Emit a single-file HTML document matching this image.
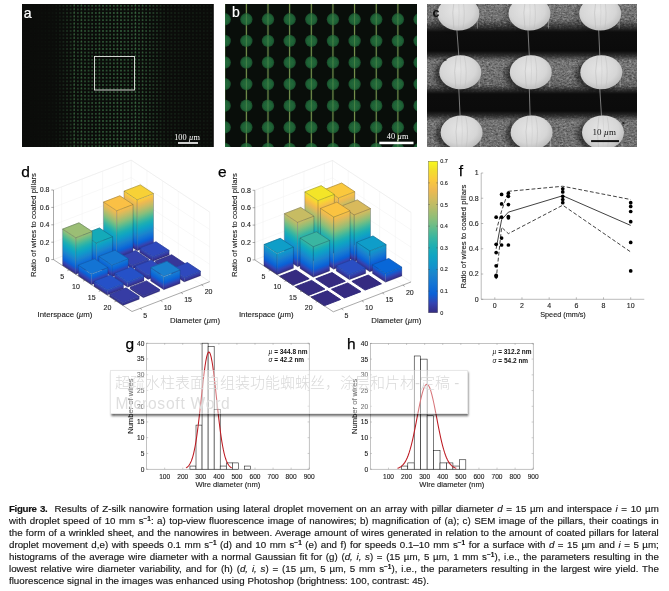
<!DOCTYPE html>
<html lang="en"><head><meta charset="utf-8"><title>Figure 3</title>
<style>
html,body{margin:0;padding:0;background:#fff;}
body{width:669px;height:591px;position:relative;overflow:hidden;font-family:"Liberation Sans","Noto Sans CJK SC",sans-serif;}
svg text{font-family:"Liberation Sans",sans-serif;}
svg text.sf{font-family:"Liberation Serif",serif;}
.tk{font-size:7px;fill:#222;stroke:#222;stroke-width:0.12px;}
.tk2{font-size:6.6px;fill:#1a1a1a;stroke:#1a1a1a;stroke-width:0.12px;}
.cbt{font-size:5.5px;fill:#222;stroke:#222;stroke-width:0.12px;}
.al{font-size:7.8px;fill:#1a1a1a;stroke:#1a1a1a;stroke-width:0.12px;}
.al2{font-size:7.6px;fill:#1a1a1a;stroke:#1a1a1a;stroke-width:0.12px;}
.pl{font-size:15.5px;fill:#000;stroke:#000;stroke-width:0.25px;}
.ann{font-size:6.5px;font-weight:bold;fill:#111;}
.cl{position:absolute;left:9px;white-space:nowrap;font-size:9.6px;line-height:12px;height:12px;color:#111;transform-origin:0 50%;-webkit-text-stroke:0.15px #222;}
.cl b{letter-spacing:-0.35px;}
.cl .sp{font-size:6.4px;font-weight:bold;position:relative;top:-3px;line-height:0;}
.tip{position:absolute;left:110.2px;top:370.1px;width:357.8px;height:43.5px;background:rgba(255,255,255,0.4);box-shadow:1.2px 2px 2.2px rgba(0,0,0,0.6);border:0.5px solid rgba(190,190,190,0.35);box-sizing:border-box;}
.tip div{position:absolute;left:3.8px;white-space:nowrap;color:#dadada;line-height:18px;height:18px;font-family:"Liberation Sans","Noto Sans CJK SC",sans-serif;}
.tip .t1{top:2.9px;font-size:15px;font-weight:300;}
.tip .t2{color:#dedede;top:23.6px;font-size:15.6px;letter-spacing:0.75px;left:4.3px;}
</style></head><body>
<svg width="191.8" height="143.3" viewBox="0 0 191.8 143.3" style="position:absolute;left:22px;top:4px">
<defs>
<pattern id="dots" width="3.6" height="3.6" patternUnits="userSpaceOnUse"><circle cx="1.8" cy="1.8" r="0.95" fill="#4a9058"/></pattern>
<linearGradient id="afade" x1="0" y1="0" x2="1" y2="0">
<stop offset="0" stop-color="#fff" stop-opacity="0"/><stop offset="0.17" stop-color="#fff" stop-opacity="0.06"/><stop offset="0.3" stop-color="#fff" stop-opacity="0.55"/>
<stop offset="0.5" stop-color="#fff" stop-opacity="0.68"/><stop offset="0.66" stop-color="#fff" stop-opacity="0.55"/><stop offset="0.75" stop-color="#fff" stop-opacity="0.2"/><stop offset="1" stop-color="#fff" stop-opacity="0.1"/></linearGradient>
<mask id="am"><rect width="191.8" height="143.3" fill="url(#afade)"/></mask>
</defs>
<rect width="191.8" height="143.3" fill="#0b0c0a"/>
<rect width="191.8" height="143.3" fill="url(#dots)" mask="url(#am)"/>
<path d="M52.2 0V143" stroke="#5fa868" stroke-opacity="0.5" stroke-width="0.7" stroke-dasharray="2.2 1.4"/>
<path d="M59.4 0V143" stroke="#5fa868" stroke-opacity="0.35" stroke-width="0.7" stroke-dasharray="2.2 1.4"/>
<path d="M113.4 0V143" stroke="#5fa868" stroke-opacity="0.5" stroke-width="0.7" stroke-dasharray="2.2 1.4"/>
<path d="M77.4 0V143" stroke="#5fa868" stroke-opacity="0.2" stroke-width="0.7" stroke-dasharray="2.2 1.4"/>
<path d="M95.4 0V143" stroke="#5fa868" stroke-opacity="0.2" stroke-width="0.7" stroke-dasharray="2.2 1.4"/>
<path d="M120.6 0V143" stroke="#5fa868" stroke-opacity="0.25" stroke-width="0.7" stroke-dasharray="2.2 1.4"/>
<rect x="72.5" y="52.5" width="40" height="33.5" fill="none" stroke="#e6e8e4" stroke-width="0.9"/>
<text x="1.8" y="13.7" font-family="'Liberation Sans',sans-serif" font-size="14" fill="#fff" stroke="#fff" stroke-width="0.25">a</text>
<text x="165" y="136" text-anchor="middle" class="sf" font-size="8.3" fill="#fff">100 <tspan font-style="italic">µ</tspan>m</text>
<rect x="156" y="138.2" width="20" height="1.6" fill="#fff"/>
</svg>
<svg width="192.1" height="143.3" viewBox="0 0 192.1 143.3" style="position:absolute;left:224.5px;top:4px">
<defs><radialGradient id="bc" cx="0.5" cy="0.5" r="0.5"><stop offset="0" stop-color="#226a3b"/><stop offset="0.7" stop-color="#1f6236"/><stop offset="1" stop-color="#174828"/></radialGradient>
<filter id="bblur" x="-5%" y="-5%" width="110%" height="110%"><feGaussianBlur stdDeviation="0.6"/></filter></defs>
<rect width="192.1" height="143.3" fill="#090e0a"/>
<g filter="url(#bblur)">
<path d="M-0.3 0V143" stroke="#1b3a22" stroke-width="3" stroke-opacity="0.3"/>
<path d="M-0.3 0V143" stroke="#a6c266" stroke-width="0.85" stroke-opacity="0.9"/>
<path d="M21.35 0V143" stroke="#1b3a22" stroke-width="3" stroke-opacity="0.3"/>
<path d="M21.35 0V143" stroke="#a6c266" stroke-width="0.85" stroke-opacity="0.9"/>
<path d="M43 0V143" stroke="#1b3a22" stroke-width="3" stroke-opacity="0.3"/>
<path d="M43 0V143" stroke="#a6c266" stroke-width="0.85" stroke-opacity="0.9"/>
<path d="M64.65 0V143" stroke="#1b3a22" stroke-width="3" stroke-opacity="0.3"/>
<path d="M64.65 0V143" stroke="#a6c266" stroke-width="0.85" stroke-opacity="0.9"/>
<path d="M86.3 0V143" stroke="#1b3a22" stroke-width="3" stroke-opacity="0.3"/>
<path d="M86.3 0V143" stroke="#a6c266" stroke-width="0.85" stroke-opacity="0.9"/>
<path d="M107.95 0V143" stroke="#1b3a22" stroke-width="3" stroke-opacity="0.3"/>
<path d="M107.95 0V143" stroke="#a6c266" stroke-width="0.85" stroke-opacity="0.9"/>
<path d="M129.6 0V143" stroke="#1b3a22" stroke-width="3" stroke-opacity="0.3"/>
<path d="M129.6 0V143" stroke="#a6c266" stroke-width="0.85" stroke-opacity="0.9"/>
<path d="M151.25 0V143" stroke="#1b3a22" stroke-width="3" stroke-opacity="0.3"/>
<path d="M151.25 0V143" stroke="#a6c266" stroke-width="0.85" stroke-opacity="0.9"/>
<path d="M172.9 0V143" stroke="#1b3a22" stroke-width="3" stroke-opacity="0.3"/>
<path d="M172.9 0V143" stroke="#a6c266" stroke-width="0.85" stroke-opacity="0.9"/>
<path d="M194.55 0V143" stroke="#1b3a22" stroke-width="3" stroke-opacity="0.3"/>
<path d="M194.55 0V143" stroke="#a6c266" stroke-width="0.85" stroke-opacity="0.9"/>
<circle cx="-0.3" cy="-6.3" r="6.2" fill="url(#bc)"/>
<path d="M-0.3 -12.5v12.4" stroke="#7fae58" stroke-width="0.7" stroke-opacity="0.6"/>
<circle cx="-0.3" cy="15.3" r="6.2" fill="url(#bc)"/>
<path d="M-0.3 9.1v12.4" stroke="#7fae58" stroke-width="0.7" stroke-opacity="0.6"/>
<circle cx="-0.3" cy="36.9" r="6.2" fill="url(#bc)"/>
<path d="M-0.3 30.7v12.4" stroke="#7fae58" stroke-width="0.7" stroke-opacity="0.6"/>
<circle cx="-0.3" cy="58.5" r="6.2" fill="url(#bc)"/>
<path d="M-0.3 52.3v12.4" stroke="#7fae58" stroke-width="0.7" stroke-opacity="0.6"/>
<circle cx="-0.3" cy="80.1" r="6.2" fill="url(#bc)"/>
<path d="M-0.3 73.9v12.4" stroke="#7fae58" stroke-width="0.7" stroke-opacity="0.6"/>
<circle cx="-0.3" cy="101.7" r="6.2" fill="url(#bc)"/>
<path d="M-0.3 95.5v12.4" stroke="#7fae58" stroke-width="0.7" stroke-opacity="0.6"/>
<circle cx="-0.3" cy="123.3" r="6.2" fill="url(#bc)"/>
<path d="M-0.3 117.1v12.4" stroke="#7fae58" stroke-width="0.7" stroke-opacity="0.6"/>
<circle cx="-0.3" cy="144.9" r="6.2" fill="url(#bc)"/>
<path d="M-0.3 138.7v12.4" stroke="#7fae58" stroke-width="0.7" stroke-opacity="0.6"/>
<circle cx="21.35" cy="-6.3" r="6.2" fill="url(#bc)"/>
<path d="M21.35 -12.5v12.4" stroke="#7fae58" stroke-width="0.7" stroke-opacity="0.6"/>
<circle cx="21.35" cy="15.3" r="6.2" fill="url(#bc)"/>
<path d="M21.35 9.1v12.4" stroke="#7fae58" stroke-width="0.7" stroke-opacity="0.6"/>
<circle cx="21.35" cy="36.9" r="6.2" fill="url(#bc)"/>
<path d="M21.35 30.7v12.4" stroke="#7fae58" stroke-width="0.7" stroke-opacity="0.6"/>
<circle cx="21.35" cy="58.5" r="6.2" fill="url(#bc)"/>
<path d="M21.35 52.3v12.4" stroke="#7fae58" stroke-width="0.7" stroke-opacity="0.6"/>
<circle cx="21.35" cy="80.1" r="6.2" fill="url(#bc)"/>
<path d="M21.35 73.9v12.4" stroke="#7fae58" stroke-width="0.7" stroke-opacity="0.6"/>
<circle cx="21.35" cy="101.7" r="6.2" fill="url(#bc)"/>
<path d="M21.35 95.5v12.4" stroke="#7fae58" stroke-width="0.7" stroke-opacity="0.6"/>
<circle cx="21.35" cy="123.3" r="6.2" fill="url(#bc)"/>
<path d="M21.35 117.1v12.4" stroke="#7fae58" stroke-width="0.7" stroke-opacity="0.6"/>
<circle cx="21.35" cy="144.9" r="6.2" fill="url(#bc)"/>
<path d="M21.35 138.7v12.4" stroke="#7fae58" stroke-width="0.7" stroke-opacity="0.6"/>
<circle cx="43" cy="-6.3" r="6.2" fill="url(#bc)"/>
<path d="M43 -12.5v12.4" stroke="#7fae58" stroke-width="0.7" stroke-opacity="0.6"/>
<circle cx="43" cy="15.3" r="6.2" fill="url(#bc)"/>
<path d="M43 9.1v12.4" stroke="#7fae58" stroke-width="0.7" stroke-opacity="0.6"/>
<circle cx="43" cy="36.9" r="6.2" fill="url(#bc)"/>
<path d="M43 30.7v12.4" stroke="#7fae58" stroke-width="0.7" stroke-opacity="0.6"/>
<circle cx="43" cy="58.5" r="6.2" fill="url(#bc)"/>
<path d="M43 52.3v12.4" stroke="#7fae58" stroke-width="0.7" stroke-opacity="0.6"/>
<circle cx="43" cy="80.1" r="6.2" fill="url(#bc)"/>
<path d="M43 73.9v12.4" stroke="#7fae58" stroke-width="0.7" stroke-opacity="0.6"/>
<circle cx="43" cy="101.7" r="6.2" fill="url(#bc)"/>
<path d="M43 95.5v12.4" stroke="#7fae58" stroke-width="0.7" stroke-opacity="0.6"/>
<circle cx="43" cy="123.3" r="6.2" fill="url(#bc)"/>
<path d="M43 117.1v12.4" stroke="#7fae58" stroke-width="0.7" stroke-opacity="0.6"/>
<circle cx="43" cy="144.9" r="6.2" fill="url(#bc)"/>
<path d="M43 138.7v12.4" stroke="#7fae58" stroke-width="0.7" stroke-opacity="0.6"/>
<circle cx="64.65" cy="-6.3" r="6.2" fill="url(#bc)"/>
<path d="M64.65 -12.5v12.4" stroke="#7fae58" stroke-width="0.7" stroke-opacity="0.6"/>
<circle cx="64.65" cy="15.3" r="6.2" fill="url(#bc)"/>
<path d="M64.65 9.1v12.4" stroke="#7fae58" stroke-width="0.7" stroke-opacity="0.6"/>
<circle cx="64.65" cy="36.9" r="6.2" fill="url(#bc)"/>
<path d="M64.65 30.7v12.4" stroke="#7fae58" stroke-width="0.7" stroke-opacity="0.6"/>
<circle cx="64.65" cy="58.5" r="6.2" fill="url(#bc)"/>
<path d="M64.65 52.3v12.4" stroke="#7fae58" stroke-width="0.7" stroke-opacity="0.6"/>
<circle cx="64.65" cy="80.1" r="6.2" fill="url(#bc)"/>
<path d="M64.65 73.9v12.4" stroke="#7fae58" stroke-width="0.7" stroke-opacity="0.6"/>
<circle cx="64.65" cy="101.7" r="6.2" fill="url(#bc)"/>
<path d="M64.65 95.5v12.4" stroke="#7fae58" stroke-width="0.7" stroke-opacity="0.6"/>
<circle cx="64.65" cy="123.3" r="6.2" fill="url(#bc)"/>
<path d="M64.65 117.1v12.4" stroke="#7fae58" stroke-width="0.7" stroke-opacity="0.6"/>
<circle cx="64.65" cy="144.9" r="6.2" fill="url(#bc)"/>
<path d="M64.65 138.7v12.4" stroke="#7fae58" stroke-width="0.7" stroke-opacity="0.6"/>
<circle cx="86.3" cy="-6.3" r="6.2" fill="url(#bc)"/>
<path d="M86.3 -12.5v12.4" stroke="#7fae58" stroke-width="0.7" stroke-opacity="0.6"/>
<circle cx="86.3" cy="15.3" r="6.2" fill="url(#bc)"/>
<path d="M86.3 9.1v12.4" stroke="#7fae58" stroke-width="0.7" stroke-opacity="0.6"/>
<circle cx="86.3" cy="36.9" r="6.2" fill="url(#bc)"/>
<path d="M86.3 30.7v12.4" stroke="#7fae58" stroke-width="0.7" stroke-opacity="0.6"/>
<circle cx="86.3" cy="58.5" r="6.2" fill="url(#bc)"/>
<path d="M86.3 52.3v12.4" stroke="#7fae58" stroke-width="0.7" stroke-opacity="0.6"/>
<circle cx="86.3" cy="80.1" r="6.2" fill="url(#bc)"/>
<path d="M86.3 73.9v12.4" stroke="#7fae58" stroke-width="0.7" stroke-opacity="0.6"/>
<circle cx="86.3" cy="101.7" r="6.2" fill="url(#bc)"/>
<path d="M86.3 95.5v12.4" stroke="#7fae58" stroke-width="0.7" stroke-opacity="0.6"/>
<circle cx="86.3" cy="123.3" r="6.2" fill="url(#bc)"/>
<path d="M86.3 117.1v12.4" stroke="#7fae58" stroke-width="0.7" stroke-opacity="0.6"/>
<circle cx="86.3" cy="144.9" r="6.2" fill="url(#bc)"/>
<path d="M86.3 138.7v12.4" stroke="#7fae58" stroke-width="0.7" stroke-opacity="0.6"/>
<circle cx="107.95" cy="-6.3" r="6.2" fill="url(#bc)"/>
<path d="M107.95 -12.5v12.4" stroke="#7fae58" stroke-width="0.7" stroke-opacity="0.6"/>
<circle cx="107.95" cy="15.3" r="6.2" fill="url(#bc)"/>
<path d="M107.95 9.1v12.4" stroke="#7fae58" stroke-width="0.7" stroke-opacity="0.6"/>
<circle cx="107.95" cy="36.9" r="6.2" fill="url(#bc)"/>
<path d="M107.95 30.7v12.4" stroke="#7fae58" stroke-width="0.7" stroke-opacity="0.6"/>
<circle cx="107.95" cy="58.5" r="6.2" fill="url(#bc)"/>
<path d="M107.95 52.3v12.4" stroke="#7fae58" stroke-width="0.7" stroke-opacity="0.6"/>
<circle cx="107.95" cy="80.1" r="6.2" fill="url(#bc)"/>
<path d="M107.95 73.9v12.4" stroke="#7fae58" stroke-width="0.7" stroke-opacity="0.6"/>
<circle cx="107.95" cy="101.7" r="6.2" fill="url(#bc)"/>
<path d="M107.95 95.5v12.4" stroke="#7fae58" stroke-width="0.7" stroke-opacity="0.6"/>
<circle cx="107.95" cy="123.3" r="6.2" fill="url(#bc)"/>
<path d="M107.95 117.1v12.4" stroke="#7fae58" stroke-width="0.7" stroke-opacity="0.6"/>
<circle cx="107.95" cy="144.9" r="6.2" fill="url(#bc)"/>
<path d="M107.95 138.7v12.4" stroke="#7fae58" stroke-width="0.7" stroke-opacity="0.6"/>
<circle cx="129.6" cy="-6.3" r="6.2" fill="url(#bc)"/>
<path d="M129.6 -12.5v12.4" stroke="#7fae58" stroke-width="0.7" stroke-opacity="0.6"/>
<circle cx="129.6" cy="15.3" r="6.2" fill="url(#bc)"/>
<path d="M129.6 9.1v12.4" stroke="#7fae58" stroke-width="0.7" stroke-opacity="0.6"/>
<circle cx="129.6" cy="36.9" r="6.2" fill="url(#bc)"/>
<path d="M129.6 30.7v12.4" stroke="#7fae58" stroke-width="0.7" stroke-opacity="0.6"/>
<circle cx="129.6" cy="58.5" r="6.2" fill="url(#bc)"/>
<path d="M129.6 52.3v12.4" stroke="#7fae58" stroke-width="0.7" stroke-opacity="0.6"/>
<circle cx="129.6" cy="80.1" r="6.2" fill="url(#bc)"/>
<path d="M129.6 73.9v12.4" stroke="#7fae58" stroke-width="0.7" stroke-opacity="0.6"/>
<circle cx="129.6" cy="101.7" r="6.2" fill="url(#bc)"/>
<path d="M129.6 95.5v12.4" stroke="#7fae58" stroke-width="0.7" stroke-opacity="0.6"/>
<circle cx="129.6" cy="123.3" r="6.2" fill="url(#bc)"/>
<path d="M129.6 117.1v12.4" stroke="#7fae58" stroke-width="0.7" stroke-opacity="0.6"/>
<circle cx="129.6" cy="144.9" r="6.2" fill="url(#bc)"/>
<path d="M129.6 138.7v12.4" stroke="#7fae58" stroke-width="0.7" stroke-opacity="0.6"/>
<circle cx="151.25" cy="-6.3" r="6.2" fill="url(#bc)"/>
<path d="M151.25 -12.5v12.4" stroke="#7fae58" stroke-width="0.7" stroke-opacity="0.6"/>
<circle cx="151.25" cy="15.3" r="6.2" fill="url(#bc)"/>
<path d="M151.25 9.1v12.4" stroke="#7fae58" stroke-width="0.7" stroke-opacity="0.6"/>
<circle cx="151.25" cy="36.9" r="6.2" fill="url(#bc)"/>
<path d="M151.25 30.7v12.4" stroke="#7fae58" stroke-width="0.7" stroke-opacity="0.6"/>
<circle cx="151.25" cy="58.5" r="6.2" fill="url(#bc)"/>
<path d="M151.25 52.3v12.4" stroke="#7fae58" stroke-width="0.7" stroke-opacity="0.6"/>
<circle cx="151.25" cy="80.1" r="6.2" fill="url(#bc)"/>
<path d="M151.25 73.9v12.4" stroke="#7fae58" stroke-width="0.7" stroke-opacity="0.6"/>
<circle cx="151.25" cy="101.7" r="6.2" fill="url(#bc)"/>
<path d="M151.25 95.5v12.4" stroke="#7fae58" stroke-width="0.7" stroke-opacity="0.6"/>
<circle cx="151.25" cy="123.3" r="6.2" fill="url(#bc)"/>
<path d="M151.25 117.1v12.4" stroke="#7fae58" stroke-width="0.7" stroke-opacity="0.6"/>
<circle cx="151.25" cy="144.9" r="6.2" fill="url(#bc)"/>
<path d="M151.25 138.7v12.4" stroke="#7fae58" stroke-width="0.7" stroke-opacity="0.6"/>
<circle cx="172.9" cy="-6.3" r="6.2" fill="url(#bc)"/>
<path d="M172.9 -12.5v12.4" stroke="#7fae58" stroke-width="0.7" stroke-opacity="0.6"/>
<circle cx="172.9" cy="15.3" r="6.2" fill="url(#bc)"/>
<path d="M172.9 9.1v12.4" stroke="#7fae58" stroke-width="0.7" stroke-opacity="0.6"/>
<circle cx="172.9" cy="36.9" r="6.2" fill="url(#bc)"/>
<path d="M172.9 30.7v12.4" stroke="#7fae58" stroke-width="0.7" stroke-opacity="0.6"/>
<circle cx="172.9" cy="58.5" r="6.2" fill="url(#bc)"/>
<path d="M172.9 52.3v12.4" stroke="#7fae58" stroke-width="0.7" stroke-opacity="0.6"/>
<circle cx="172.9" cy="80.1" r="6.2" fill="url(#bc)"/>
<path d="M172.9 73.9v12.4" stroke="#7fae58" stroke-width="0.7" stroke-opacity="0.6"/>
<circle cx="172.9" cy="101.7" r="6.2" fill="url(#bc)"/>
<path d="M172.9 95.5v12.4" stroke="#7fae58" stroke-width="0.7" stroke-opacity="0.6"/>
<circle cx="172.9" cy="123.3" r="6.2" fill="url(#bc)"/>
<path d="M172.9 117.1v12.4" stroke="#7fae58" stroke-width="0.7" stroke-opacity="0.6"/>
<circle cx="172.9" cy="144.9" r="6.2" fill="url(#bc)"/>
<path d="M172.9 138.7v12.4" stroke="#7fae58" stroke-width="0.7" stroke-opacity="0.6"/>
<circle cx="194.55" cy="-6.3" r="6.2" fill="url(#bc)"/>
<path d="M194.55 -12.5v12.4" stroke="#7fae58" stroke-width="0.7" stroke-opacity="0.6"/>
<circle cx="194.55" cy="15.3" r="6.2" fill="url(#bc)"/>
<path d="M194.55 9.1v12.4" stroke="#7fae58" stroke-width="0.7" stroke-opacity="0.6"/>
<circle cx="194.55" cy="36.9" r="6.2" fill="url(#bc)"/>
<path d="M194.55 30.7v12.4" stroke="#7fae58" stroke-width="0.7" stroke-opacity="0.6"/>
<circle cx="194.55" cy="58.5" r="6.2" fill="url(#bc)"/>
<path d="M194.55 52.3v12.4" stroke="#7fae58" stroke-width="0.7" stroke-opacity="0.6"/>
<circle cx="194.55" cy="80.1" r="6.2" fill="url(#bc)"/>
<path d="M194.55 73.9v12.4" stroke="#7fae58" stroke-width="0.7" stroke-opacity="0.6"/>
<circle cx="194.55" cy="101.7" r="6.2" fill="url(#bc)"/>
<path d="M194.55 95.5v12.4" stroke="#7fae58" stroke-width="0.7" stroke-opacity="0.6"/>
<circle cx="194.55" cy="123.3" r="6.2" fill="url(#bc)"/>
<path d="M194.55 117.1v12.4" stroke="#7fae58" stroke-width="0.7" stroke-opacity="0.6"/>
<circle cx="194.55" cy="144.9" r="6.2" fill="url(#bc)"/>
<path d="M194.55 138.7v12.4" stroke="#7fae58" stroke-width="0.7" stroke-opacity="0.6"/>
</g>
<text x="6.9" y="13.5" font-family="'Liberation Sans',sans-serif" font-size="14" fill="#fff" stroke="#fff" stroke-width="0.15">b</text>
<text x="172.6" y="135.5" text-anchor="middle" class="sf" font-size="8.3" fill="#fff">40 <tspan font-style="italic">µ</tspan>m</text>
<rect x="154.3" y="137.7" width="34.2" height="2.5" fill="#fff"/>
</svg>
<svg width="210.1" height="143.3" viewBox="0 0 210.1 143.3" style="position:absolute;left:427px;top:4px">
<defs><linearGradient id="cbg" gradientUnits="userSpaceOnUse" x1="0" y1="0" x2="0" y2="143"><stop offset="0.0000" stop-color="#787878"/><stop offset="0.1049" stop-color="#727272"/><stop offset="0.1538" stop-color="#3a3a3a"/><stop offset="0.1958" stop-color="#0d0d0d"/><stop offset="0.3287" stop-color="#0b0b0b"/><stop offset="0.3636" stop-color="#303030"/><stop offset="0.3986" stop-color="#767676"/><stop offset="0.4895" stop-color="#747474"/><stop offset="0.5664" stop-color="#646464"/><stop offset="0.6014" stop-color="#2c2c2c"/><stop offset="0.6294" stop-color="#0c0c0c"/><stop offset="0.7483" stop-color="#0b0b0b"/><stop offset="0.7832" stop-color="#2e2e2e"/><stop offset="0.8182" stop-color="#747474"/><stop offset="1.0021" stop-color="#707070"/></linearGradient>
<linearGradient id="cnm" gradientUnits="userSpaceOnUse" x1="0" y1="0" x2="0" y2="143"><stop offset="0.0000" stop-color="#fff"/><stop offset="0.1329" stop-color="#fff"/><stop offset="0.1888" stop-color="#000"/><stop offset="0.3427" stop-color="#000"/><stop offset="0.3986" stop-color="#fff"/><stop offset="0.5734" stop-color="#fff"/><stop offset="0.6224" stop-color="#000"/><stop offset="0.7622" stop-color="#000"/><stop offset="0.8182" stop-color="#fff"/><stop offset="1.0000" stop-color="#fff"/></linearGradient>
<radialGradient id="ce" cx="0.45" cy="0.4" r="0.7"><stop offset="0" stop-color="#e5e5e5"/><stop offset="0.6" stop-color="#d6d6d6"/><stop offset="0.85" stop-color="#bebebe"/><stop offset="1" stop-color="#969696"/></radialGradient>
<filter id="cn" x="0" y="0" width="100%" height="100%"><feTurbulence type="fractalNoise" baseFrequency="0.4 0.55" numOctaves="3" seed="4"/><feColorMatrix type="matrix" values="0 0 0 0 1  0 0 0 0 1  0 0 0 0 1  2.2 0 0 0 -0.95"/><feGaussianBlur stdDeviation="0.5"/></filter>
<filter id="cn2" x="0" y="0" width="100%" height="100%"><feTurbulence type="fractalNoise" baseFrequency="0.42 0.6" numOctaves="3" seed="11"/><feColorMatrix type="matrix" values="0 0 0 0 0  0 0 0 0 0  0 0 0 0 0  2.2 0 0 0 -0.95"/><feGaussianBlur stdDeviation="0.5"/></filter>
<mask id="cm"><rect width="210.1" height="143.3" fill="url(#cnm)"/></mask>
<filter id="cblur"><feGaussianBlur stdDeviation="0.45"/></filter>
<filter id="cblur2"><feGaussianBlur stdDeviation="2.2"/></filter>
<clipPath id="cclip"><rect width="210.1" height="143.3"/></clipPath>
</defs>
<g clip-path="url(#cclip)">
<rect width="210.1" height="143.3" fill="url(#cbg)"/>
<g mask="url(#cm)"><rect width="210.1" height="143.3" filter="url(#cn)" opacity="0.3"/><rect width="210.1" height="143.3" filter="url(#cn2)" opacity="0.4"/></g>
<g filter="url(#cblur2)">
<ellipse cx="27.9" cy="11.6" rx="22.5" ry="17" fill="#000" opacity="0.2"/>
<ellipse cx="99" cy="11.6" rx="22.5" ry="17" fill="#000" opacity="0.2"/>
<ellipse cx="169.7" cy="11.6" rx="22.5" ry="17" fill="#000" opacity="0.2"/>
<ellipse cx="29.8" cy="70.3" rx="22.5" ry="17" fill="#000" opacity="0.5"/>
<ellipse cx="100.3" cy="70.3" rx="22.5" ry="17" fill="#000" opacity="0.5"/>
<ellipse cx="170.8" cy="70.3" rx="22.5" ry="17" fill="#000" opacity="0.5"/>
<ellipse cx="31.1" cy="130.4" rx="22.5" ry="17" fill="#000" opacity="0.5"/>
<ellipse cx="101.1" cy="130.4" rx="22.5" ry="17" fill="#000" opacity="0.5"/>
<ellipse cx="172.5" cy="130.4" rx="22.5" ry="17" fill="#000" opacity="0.5"/>
</g>
<g filter="url(#cblur)">
<path d="M29.9 26.1L31.8 51.8" stroke="#a8a8a8" stroke-width="0.7"/>
<path d="M31.8 84.8L33.1 111.9" stroke="#a8a8a8" stroke-width="0.7"/>
<path d="M101 26.1L102.3 51.8" stroke="#a8a8a8" stroke-width="0.7"/>
<path d="M102.3 84.8L103.1 111.9" stroke="#a8a8a8" stroke-width="0.7"/>
<path d="M171.7 26.1L172.8 51.8" stroke="#a8a8a8" stroke-width="0.7"/>
<path d="M172.8 84.8L174.5 111.9" stroke="#a8a8a8" stroke-width="0.7"/>
<path d="M50.4 15.6v9" stroke="#bdbdbd" stroke-width="0.9" opacity="0.55"/>
<ellipse cx="31.4" cy="9.6" rx="21" ry="17" fill="url(#ce)"/>
<path d="M27.4 -6.4q-3 15 -0.5 31" fill="none" stroke="#b4b4b4" stroke-width="0.45"/>
<path d="M35.4 -6.7q3.5 15 0.5 32" fill="none" stroke="#bdbdbd" stroke-width="0.45"/>
<path d="M31.4 -7.2q1.5 15 0 33" fill="none" stroke="#c6c6c6" stroke-width="0.4"/>
<path d="M121.5 15.6v9" stroke="#bdbdbd" stroke-width="0.9" opacity="0.55"/>
<ellipse cx="102.5" cy="9.6" rx="21" ry="17" fill="url(#ce)"/>
<path d="M98.5 -6.4q-3 15 -0.5 31" fill="none" stroke="#b4b4b4" stroke-width="0.45"/>
<path d="M106.5 -6.7q3.5 15 0.5 32" fill="none" stroke="#bdbdbd" stroke-width="0.45"/>
<path d="M102.5 -7.2q1.5 15 0 33" fill="none" stroke="#c6c6c6" stroke-width="0.4"/>
<path d="M192.2 15.6v9" stroke="#bdbdbd" stroke-width="0.9" opacity="0.55"/>
<ellipse cx="173.2" cy="9.6" rx="21" ry="17" fill="url(#ce)"/>
<path d="M169.2 -6.4q-3 15 -0.5 31" fill="none" stroke="#b4b4b4" stroke-width="0.45"/>
<path d="M177.2 -6.7q3.5 15 0.5 32" fill="none" stroke="#bdbdbd" stroke-width="0.45"/>
<path d="M173.2 -7.2q1.5 15 0 33" fill="none" stroke="#c6c6c6" stroke-width="0.4"/>
<path d="M52.3 74.3v9" stroke="#bdbdbd" stroke-width="0.9" opacity="0.55"/>
<ellipse cx="33.3" cy="68.3" rx="21" ry="17" fill="url(#ce)"/>
<path d="M29.3 52.3q-3 15 -0.5 31" fill="none" stroke="#b4b4b4" stroke-width="0.45"/>
<path d="M37.3 52q3.5 15 0.5 32" fill="none" stroke="#bdbdbd" stroke-width="0.45"/>
<path d="M33.3 51.5q1.5 15 0 33" fill="none" stroke="#c6c6c6" stroke-width="0.4"/>
<path d="M122.8 74.3v9" stroke="#bdbdbd" stroke-width="0.9" opacity="0.55"/>
<ellipse cx="103.8" cy="68.3" rx="21" ry="17" fill="url(#ce)"/>
<path d="M99.8 52.3q-3 15 -0.5 31" fill="none" stroke="#b4b4b4" stroke-width="0.45"/>
<path d="M107.8 52q3.5 15 0.5 32" fill="none" stroke="#bdbdbd" stroke-width="0.45"/>
<path d="M103.8 51.5q1.5 15 0 33" fill="none" stroke="#c6c6c6" stroke-width="0.4"/>
<path d="M193.3 74.3v9" stroke="#bdbdbd" stroke-width="0.9" opacity="0.55"/>
<ellipse cx="174.3" cy="68.3" rx="21" ry="17" fill="url(#ce)"/>
<path d="M170.3 52.3q-3 15 -0.5 31" fill="none" stroke="#b4b4b4" stroke-width="0.45"/>
<path d="M178.3 52q3.5 15 0.5 32" fill="none" stroke="#bdbdbd" stroke-width="0.45"/>
<path d="M174.3 51.5q1.5 15 0 33" fill="none" stroke="#c6c6c6" stroke-width="0.4"/>
<path d="M53.6 134.4v9" stroke="#bdbdbd" stroke-width="0.9" opacity="0.55"/>
<ellipse cx="34.6" cy="128.4" rx="21" ry="17" fill="url(#ce)"/>
<path d="M30.6 112.4q-3 15 -0.5 31" fill="none" stroke="#b4b4b4" stroke-width="0.45"/>
<path d="M38.6 112.1q3.5 15 0.5 32" fill="none" stroke="#bdbdbd" stroke-width="0.45"/>
<path d="M34.6 111.6q1.5 15 0 33" fill="none" stroke="#c6c6c6" stroke-width="0.4"/>
<path d="M123.6 134.4v9" stroke="#bdbdbd" stroke-width="0.9" opacity="0.55"/>
<ellipse cx="104.6" cy="128.4" rx="21" ry="17" fill="url(#ce)"/>
<path d="M100.6 112.4q-3 15 -0.5 31" fill="none" stroke="#b4b4b4" stroke-width="0.45"/>
<path d="M108.6 112.1q3.5 15 0.5 32" fill="none" stroke="#bdbdbd" stroke-width="0.45"/>
<path d="M104.6 111.6q1.5 15 0 33" fill="none" stroke="#c6c6c6" stroke-width="0.4"/>
<path d="M195 134.4v9" stroke="#bdbdbd" stroke-width="0.9" opacity="0.55"/>
<ellipse cx="176" cy="128.4" rx="21" ry="17" fill="url(#ce)"/>
<path d="M172 112.4q-3 15 -0.5 31" fill="none" stroke="#b4b4b4" stroke-width="0.45"/>
<path d="M180 112.1q3.5 15 0.5 32" fill="none" stroke="#bdbdbd" stroke-width="0.45"/>
<path d="M176 111.6q1.5 15 0 33" fill="none" stroke="#c6c6c6" stroke-width="0.4"/>
</g>
<ellipse cx="18" cy="56" rx="1.8" ry="0.8" fill="#222"/><ellipse cx="196.5" cy="119" rx="1.3" ry="1" fill="#222"/>
</g>
<text x="5.5" y="13.5" font-family="'Liberation Sans',sans-serif" font-size="12.6" font-weight="bold" fill="#111">c</text>
<text x="177.3" y="131.3" text-anchor="middle" class="sf" font-size="9" fill="#111">10 <tspan font-style="italic">µ</tspan>m</text>
<rect x="164.1" y="136.1" width="27.9" height="2" fill="#111"/>
</svg>
<svg width="669" height="591" viewBox="0 0 669 591" style="position:absolute;left:0;top:0">
<defs><linearGradient id="cb" x1="0" y1="1" x2="0" y2="0"><stop offset="0.0000" stop-color="#352a87"/><stop offset="0.0625" stop-color="#3243b9"/><stop offset="0.1250" stop-color="#0462e0"/><stop offset="0.1875" stop-color="#0c74dd"/><stop offset="0.2500" stop-color="#1484d4"/><stop offset="0.3125" stop-color="#0a97d1"/><stop offset="0.3750" stop-color="#06a6c7"/><stop offset="0.4375" stop-color="#13b0b6"/><stop offset="0.5000" stop-color="#33b8a1"/><stop offset="0.5625" stop-color="#5ebe89"/><stop offset="0.6250" stop-color="#8bbf75"/><stop offset="0.6875" stop-color="#b1bd66"/><stop offset="0.7500" stop-color="#d3bb58"/><stop offset="0.8125" stop-color="#f2b949"/><stop offset="0.8750" stop-color="#fec932"/><stop offset="0.9375" stop-color="#f5de21"/><stop offset="1.0000" stop-color="#f9fb0e"/></linearGradient><filter id="desat" x="0" y="0" width="100%" height="100%" filterUnits="userSpaceOnUse" color-interpolation-filters="sRGB"><feColorMatrix type="saturate" values="0.93"/></filter></defs>
<linearGradient id="gd" gradientUnits="userSpaceOnUse" x1="0" y1="0" x2="0" y2="0.65"><stop offset="0.0000" stop-color="#352a87"/><stop offset="0.0625" stop-color="#3243b9"/><stop offset="0.1250" stop-color="#0462e0"/><stop offset="0.1875" stop-color="#0c74dd"/><stop offset="0.2500" stop-color="#1484d4"/><stop offset="0.3125" stop-color="#0a97d1"/><stop offset="0.3750" stop-color="#06a6c7"/><stop offset="0.4375" stop-color="#13b0b6"/><stop offset="0.5000" stop-color="#33b8a1"/><stop offset="0.5625" stop-color="#5ebe89"/><stop offset="0.6250" stop-color="#8bbf75"/><stop offset="0.6875" stop-color="#b1bd66"/><stop offset="0.7500" stop-color="#d3bb58"/><stop offset="0.8125" stop-color="#f2b949"/><stop offset="0.8750" stop-color="#fec932"/><stop offset="0.9375" stop-color="#f5de21"/><stop offset="1.0000" stop-color="#f9fb0e"/></linearGradient>
<polyline points="53.5,259.6 131.21,229.77 209.71,281.67" fill="none" stroke="#f1f1f1" stroke-width="0.5"/>
<polyline points="53.5,242.2 131.21,212.37 209.71,264.27" fill="none" stroke="#f1f1f1" stroke-width="0.5"/>
<polyline points="53.5,224.8 131.21,194.97 209.71,246.87" fill="none" stroke="#f1f1f1" stroke-width="0.5"/>
<polyline points="53.5,207.4 131.21,177.57 209.71,229.47" fill="none" stroke="#f1f1f1" stroke-width="0.5"/>
<polyline points="53.5,190 131.21,160.17 209.71,212.07" fill="none" stroke="#f1f1f1" stroke-width="0.5"/>
<path d="M61.68 256.46L61.68 186.86M61.68 256.46L140.18 308.36" fill="none" stroke="#f1f1f1" stroke-width="0.5"/>
<path d="M82.13 248.61L82.13 179.01M82.13 248.61L160.63 300.51" fill="none" stroke="#f1f1f1" stroke-width="0.5"/>
<path d="M102.58 240.76L102.58 171.16M102.58 240.76L181.08 292.66" fill="none" stroke="#f1f1f1" stroke-width="0.5"/>
<path d="M123.03 232.91L123.03 163.31M123.03 232.91L201.53 284.81" fill="none" stroke="#f1f1f1" stroke-width="0.5"/>
<path d="M146.91 240.15L146.91 170.55M146.91 240.15L69.2 269.98" fill="none" stroke="#f1f1f1" stroke-width="0.5"/>
<path d="M162.61 250.53L162.61 180.93M162.61 250.53L84.9 280.36" fill="none" stroke="#f1f1f1" stroke-width="0.5"/>
<path d="M178.31 260.91L178.31 191.31M178.31 260.91L100.6 290.74" fill="none" stroke="#f1f1f1" stroke-width="0.5"/>
<path d="M194.01 271.29L194.01 201.69M194.01 271.29L116.3 301.12" fill="none" stroke="#f1f1f1" stroke-width="0.5"/>
<path d="M53.5 190L131.21 160.17L209.71 212.07L209.71 281.67M131.21 229.77L131.21 160.17M53.5 259.6L131.21 229.77" fill="none" stroke="#e9e9e9" stroke-width="0.5"/>
<path d="M131.21 229.77L209.71 281.67" fill="none" stroke="#e9e9e9" stroke-width="0.5"/>
<g filter="url(#desat)">
<rect x="0" y="0" width="1" height="0.58" fill="url(#gd)" transform="matrix(13.19 8.72 0 -87 123.96 242.07)"/>
<rect x="0" y="0" width="1" height="0.58" fill="url(#gd)" transform="matrix(16.36 -6.28 0 -87 137.14 250.79)"/>
<polygon points="123.96,191.18 137.14,199.89 153.5,193.61 140.32,184.9" fill="#fad12b" stroke="#fad12b" stroke-width="0.7" stroke-linejoin="round"/>
<path d="M123.96 242.07L137.14 250.79L153.5 244.51L153.5 193.61L140.32 184.9L123.96 191.18ZM123.96 191.18L137.14 199.89L153.5 193.61M137.14 199.89L137.14 250.79" fill="none" stroke="#101838" stroke-opacity="0.7" stroke-width="0.35" stroke-linejoin="round"/>
<rect x="0" y="0" width="1" height="0.55" fill="url(#gd)" transform="matrix(13.19 8.72 0 -87 103.51 249.92)"/>
<rect x="0" y="0" width="1" height="0.55" fill="url(#gd)" transform="matrix(16.36 -6.28 0 -87 116.69 258.64)"/>
<polygon points="103.51,202.07 116.69,210.79 133.05,204.51 119.87,195.79" fill="#fec03b" stroke="#fec03b" stroke-width="0.7" stroke-linejoin="round"/>
<path d="M103.51 249.92L116.69 258.64L133.05 252.36L133.05 204.51L119.87 195.79L103.51 202.07ZM103.51 202.07L116.69 210.79L133.05 204.51M116.69 210.79L116.69 258.64" fill="none" stroke="#101838" stroke-opacity="0.7" stroke-width="0.35" stroke-linejoin="round"/>
<rect x="0" y="0" width="1" height="0.27" fill="url(#gd)" transform="matrix(13.19 8.72 0 -87 83.06 257.77)"/>
<rect x="0" y="0" width="1" height="0.27" fill="url(#gd)" transform="matrix(16.36 -6.28 0 -87 96.24 266.49)"/>
<polygon points="83.06,234.28 96.24,243 112.6,236.72 99.42,228" fill="#0bacbd" stroke="#0bacbd" stroke-width="0.7" stroke-linejoin="round"/>
<path d="M83.06 257.77L96.24 266.49L112.6 260.21L112.6 236.72L99.42 228L83.06 234.28ZM83.06 234.28L96.24 243L112.6 236.72M96.24 243L96.24 266.49" fill="none" stroke="#101838" stroke-opacity="0.7" stroke-width="0.35" stroke-linejoin="round"/>
<rect x="0" y="0" width="1" height="0.42" fill="url(#gd)" transform="matrix(13.19 8.72 0 -87 62.61 265.62)"/>
<rect x="0" y="0" width="1" height="0.42" fill="url(#gd)" transform="matrix(16.36 -6.28 0 -87 75.79 274.34)"/>
<polygon points="62.61,229.08 75.79,237.8 92.15,231.52 78.97,222.8" fill="#99bf70" stroke="#99bf70" stroke-width="0.7" stroke-linejoin="round"/>
<path d="M62.61 265.62L75.79 274.34L92.15 268.06L92.15 231.52L78.97 222.8L62.61 229.08ZM62.61 229.08L75.79 237.8L92.15 231.52M75.79 237.8L75.79 274.34" fill="none" stroke="#101838" stroke-opacity="0.7" stroke-width="0.35" stroke-linejoin="round"/>
<rect x="0" y="0" width="1" height="0.05" fill="url(#gd)" transform="matrix(13.19 8.72 0 -87 139.66 252.45)"/>
<rect x="0" y="0" width="1" height="0.05" fill="url(#gd)" transform="matrix(16.36 -6.28 0 -87 152.84 261.17)"/>
<polygon points="139.66,248.1 152.84,256.82 169.2,250.54 156.02,241.82" fill="#2d49c5" stroke="#2d49c5" stroke-width="0.7" stroke-linejoin="round"/>
<path d="M139.66 252.45L152.84 261.17L169.2 254.89L169.2 250.54L156.02 241.82L139.66 248.1ZM139.66 248.1L152.84 256.82L169.2 250.54M152.84 256.82L152.84 261.17" fill="none" stroke="#101838" stroke-opacity="0.55" stroke-width="0.35" stroke-linejoin="round"/>
<rect x="0" y="0" width="1" height="0.04" fill="url(#gd)" transform="matrix(13.19 8.72 0 -87 119.21 260.3)"/>
<rect x="0" y="0" width="1" height="0.04" fill="url(#gd)" transform="matrix(16.36 -6.28 0 -87 132.39 269.02)"/>
<polygon points="119.21,256.82 132.39,265.54 148.75,259.26 135.57,250.54" fill="#3243b8" stroke="#3243b8" stroke-width="0.7" stroke-linejoin="round"/>
<path d="M119.21 260.3L132.39 269.02L148.75 262.74L148.75 259.26L135.57 250.54L119.21 256.82ZM119.21 256.82L132.39 265.54L148.75 259.26M132.39 265.54L132.39 269.02" fill="none" stroke="#101838" stroke-opacity="0.55" stroke-width="0.35" stroke-linejoin="round"/>
<rect x="0" y="0" width="1" height="0.14" fill="url(#gd)" transform="matrix(13.19 8.72 0 -87 98.76 268.15)"/>
<rect x="0" y="0" width="1" height="0.14" fill="url(#gd)" transform="matrix(16.36 -6.28 0 -87 111.94 276.87)"/>
<polygon points="98.76,256.41 111.94,265.12 128.3,258.84 115.12,250.13" fill="#1079da" stroke="#1079da" stroke-width="0.7" stroke-linejoin="round"/>
<path d="M98.76 268.15L111.94 276.87L128.3 270.59L128.3 258.84L115.12 250.13L98.76 256.41ZM98.76 256.41L111.94 265.12L128.3 258.84M111.94 265.12L111.94 276.87" fill="none" stroke="#101838" stroke-opacity="0.55" stroke-width="0.35" stroke-linejoin="round"/>
<rect x="0" y="0" width="1" height="0.12" fill="url(#gd)" transform="matrix(13.19 8.72 0 -87 78.31 276)"/>
<rect x="0" y="0" width="1" height="0.12" fill="url(#gd)" transform="matrix(16.36 -6.28 0 -87 91.49 284.72)"/>
<polygon points="78.31,265.13 91.49,273.84 107.85,267.56 94.67,258.85" fill="#0d75dc" stroke="#0d75dc" stroke-width="0.7" stroke-linejoin="round"/>
<path d="M78.31 276L91.49 284.72L107.85 278.44L107.85 267.56L94.67 258.85L78.31 265.13ZM78.31 265.13L91.49 273.84L107.85 267.56M91.49 273.84L91.49 284.72" fill="none" stroke="#101838" stroke-opacity="0.55" stroke-width="0.35" stroke-linejoin="round"/>
<rect x="0" y="0" width="1" height="0.02" fill="url(#gd)" transform="matrix(13.19 8.72 0 -87 155.36 262.83)"/>
<rect x="0" y="0" width="1" height="0.02" fill="url(#gd)" transform="matrix(16.36 -6.28 0 -87 168.54 271.55)"/>
<polygon points="155.36,261.09 168.54,269.81 184.9,263.53 171.72,254.81" fill="#36369f" stroke="#36369f" stroke-width="0.7" stroke-linejoin="round"/>
<path d="M155.36 262.83L168.54 271.55L184.9 265.27L184.9 263.53L171.72 254.81L155.36 261.09ZM155.36 261.09L168.54 269.81L184.9 263.53M168.54 269.81L168.54 271.55" fill="none" stroke="#101838" stroke-opacity="0.55" stroke-width="0.35" stroke-linejoin="round"/>
<rect x="0" y="0" width="1" height="0.05" fill="url(#gd)" transform="matrix(13.19 8.72 0 -87 134.91 270.68)"/>
<rect x="0" y="0" width="1" height="0.05" fill="url(#gd)" transform="matrix(16.36 -6.28 0 -87 148.09 279.4)"/>
<polygon points="134.91,266.33 148.09,275.05 164.45,268.77 151.27,260.05" fill="#2d49c5" stroke="#2d49c5" stroke-width="0.7" stroke-linejoin="round"/>
<path d="M134.91 270.68L148.09 279.4L164.45 273.12L164.45 268.77L151.27 260.05L134.91 266.33ZM134.91 266.33L148.09 275.05L164.45 268.77M148.09 275.05L148.09 279.4" fill="none" stroke="#101838" stroke-opacity="0.55" stroke-width="0.35" stroke-linejoin="round"/>
<rect x="0" y="0" width="1" height="0.06" fill="url(#gd)" transform="matrix(13.19 8.72 0 -87 114.46 278.53)"/>
<rect x="0" y="0" width="1" height="0.06" fill="url(#gd)" transform="matrix(16.36 -6.28 0 -87 127.64 287.25)"/>
<polygon points="114.46,273.31 127.64,282.03 144,275.75 130.82,267.03" fill="#2251d1" stroke="#2251d1" stroke-width="0.7" stroke-linejoin="round"/>
<path d="M114.46 278.53L127.64 287.25L144 280.97L144 275.75L130.82 267.03L114.46 273.31ZM114.46 273.31L127.64 282.03L144 275.75M127.64 282.03L127.64 287.25" fill="none" stroke="#101838" stroke-opacity="0.55" stroke-width="0.35" stroke-linejoin="round"/>
<rect x="0" y="0" width="1" height="0.06" fill="url(#gd)" transform="matrix(13.19 8.72 0 -87 94.01 286.38)"/>
<rect x="0" y="0" width="1" height="0.06" fill="url(#gd)" transform="matrix(16.36 -6.28 0 -87 107.19 295.1)"/>
<polygon points="94.01,281.16 107.19,289.88 123.55,283.6 110.37,274.88" fill="#2251d1" stroke="#2251d1" stroke-width="0.7" stroke-linejoin="round"/>
<path d="M94.01 286.38L107.19 295.1L123.55 288.82L123.55 283.6L110.37 274.88L94.01 281.16ZM94.01 281.16L107.19 289.88L123.55 283.6M107.19 289.88L107.19 295.1" fill="none" stroke="#101838" stroke-opacity="0.55" stroke-width="0.35" stroke-linejoin="round"/>
<rect x="0" y="0" width="1" height="0.05" fill="url(#gd)" transform="matrix(13.19 8.72 0 -87 171.06 273.21)"/>
<rect x="0" y="0" width="1" height="0.05" fill="url(#gd)" transform="matrix(16.36 -6.28 0 -87 184.24 281.93)"/>
<polygon points="171.06,268.86 184.24,277.58 200.6,271.3 187.42,262.58" fill="#2d49c5" stroke="#2d49c5" stroke-width="0.7" stroke-linejoin="round"/>
<path d="M171.06 273.21L184.24 281.93L200.6 275.65L200.6 271.3L187.42 262.58L171.06 268.86ZM171.06 268.86L184.24 277.58L200.6 271.3M184.24 277.58L184.24 281.93" fill="none" stroke="#101838" stroke-opacity="0.55" stroke-width="0.35" stroke-linejoin="round"/>
<rect x="0" y="0" width="1" height="0.15" fill="url(#gd)" transform="matrix(13.19 8.72 0 -87 150.61 281.06)"/>
<rect x="0" y="0" width="1" height="0.15" fill="url(#gd)" transform="matrix(16.36 -6.28 0 -87 163.79 289.78)"/>
<polygon points="150.61,267.58 163.79,276.29 180.15,270.01 166.97,261.3" fill="#1481d6" stroke="#1481d6" stroke-width="0.7" stroke-linejoin="round"/>
<path d="M150.61 281.06L163.79 289.78L180.15 283.5L180.15 270.01L166.97 261.3L150.61 267.58ZM150.61 267.58L163.79 276.29L180.15 270.01M163.79 276.29L163.79 289.78" fill="none" stroke="#101838" stroke-opacity="0.55" stroke-width="0.35" stroke-linejoin="round"/>
<rect x="0" y="0" width="1" height="0.02" fill="url(#gd)" transform="matrix(13.19 8.72 0 -87 130.16 288.91)"/>
<rect x="0" y="0" width="1" height="0.02" fill="url(#gd)" transform="matrix(16.36 -6.28 0 -87 143.34 297.63)"/>
<polygon points="130.16,287.17 143.34,295.89 159.7,289.61 146.52,280.89" fill="#36369f" stroke="#36369f" stroke-width="0.7" stroke-linejoin="round"/>
<path d="M130.16 288.91L143.34 297.63L159.7 291.35L159.7 289.61L146.52 280.89L130.16 287.17ZM130.16 287.17L143.34 295.89L159.7 289.61M143.34 295.89L143.34 297.63" fill="none" stroke="#101838" stroke-opacity="0.55" stroke-width="0.35" stroke-linejoin="round"/>
<rect x="0" y="0" width="1" height="0.03" fill="url(#gd)" transform="matrix(13.19 8.72 0 -87 109.71 296.76)"/>
<rect x="0" y="0" width="1" height="0.03" fill="url(#gd)" transform="matrix(16.36 -6.28 0 -87 122.89 305.48)"/>
<polygon points="109.71,294.15 122.89,302.87 139.25,296.59 126.07,287.87" fill="#353cab" stroke="#353cab" stroke-width="0.7" stroke-linejoin="round"/>
<path d="M109.71 296.76L122.89 305.48L139.25 299.2L139.25 296.59L126.07 287.87L109.71 294.15ZM109.71 294.15L122.89 302.87L139.25 296.59M122.89 302.87L122.89 305.48" fill="none" stroke="#101838" stroke-opacity="0.55" stroke-width="0.35" stroke-linejoin="round"/>
</g>
<path d="M53.5 190L53.5 259.6L132 311.5L209.71 281.67" fill="none" stroke="#555" stroke-width="0.5"/>
<path d="M53.5 259.6l-2.2 0" stroke="#555" stroke-width="0.5"/>
<text x="49.5" y="261.9" text-anchor="end" class="tk">0</text>
<path d="M53.5 242.2l-2.2 0" stroke="#555" stroke-width="0.5"/>
<text x="49.5" y="244.5" text-anchor="end" class="tk">0.2</text>
<path d="M53.5 224.8l-2.2 0" stroke="#555" stroke-width="0.5"/>
<text x="49.5" y="227.1" text-anchor="end" class="tk">0.4</text>
<path d="M53.5 207.4l-2.2 0" stroke="#555" stroke-width="0.5"/>
<text x="49.5" y="209.7" text-anchor="end" class="tk">0.6</text>
<path d="M53.5 190l-2.2 0" stroke="#555" stroke-width="0.5"/>
<text x="49.5" y="192.3" text-anchor="end" class="tk">0.8</text>
<path d="M69.2 269.98l-1.84 0.71" stroke="#555" stroke-width="0.5"/>
<text x="64.2" y="278.78" text-anchor="end" class="tk">5</text>
<path d="M84.9 280.36l-1.84 0.71" stroke="#555" stroke-width="0.5"/>
<text x="79.9" y="289.16" text-anchor="end" class="tk">10</text>
<path d="M100.6 290.74l-1.84 0.71" stroke="#555" stroke-width="0.5"/>
<text x="95.6" y="299.54" text-anchor="end" class="tk">15</text>
<path d="M116.3 301.12l-1.84 0.71" stroke="#555" stroke-width="0.5"/>
<text x="111.3" y="309.92" text-anchor="end" class="tk">20</text>
<path d="M140.18 308.36l1.88 1.25" stroke="#555" stroke-width="0.5"/>
<text x="143.28" y="317.86" class="tk">5</text>
<path d="M160.63 300.51l1.88 1.25" stroke="#555" stroke-width="0.5"/>
<text x="163.73" y="310.01" class="tk">10</text>
<path d="M181.08 292.66l1.88 1.25" stroke="#555" stroke-width="0.5"/>
<text x="184.18" y="302.16" class="tk">15</text>
<path d="M201.53 284.81l1.88 1.25" stroke="#555" stroke-width="0.5"/>
<text x="204.63" y="294.31" class="tk">20</text>
<text transform="translate(36 225) rotate(-90)" text-anchor="middle" class="al">Ratio of wires to coated pillars</text>
<text x="65" y="316.5" text-anchor="middle" class="al">Interspace (<tspan font-style="italic">µ</tspan>m)</text>
<text x="195" y="322.5" text-anchor="middle" class="al">Diameter (<tspan font-style="italic">µ</tspan>m)</text>
<linearGradient id="ge" gradientUnits="userSpaceOnUse" x1="0" y1="0" x2="0" y2="0.7"><stop offset="0.0000" stop-color="#352a87"/><stop offset="0.0625" stop-color="#3243b9"/><stop offset="0.1250" stop-color="#0462e0"/><stop offset="0.1875" stop-color="#0c74dd"/><stop offset="0.2500" stop-color="#1484d4"/><stop offset="0.3125" stop-color="#0a97d1"/><stop offset="0.3750" stop-color="#06a6c7"/><stop offset="0.4375" stop-color="#13b0b6"/><stop offset="0.5000" stop-color="#33b8a1"/><stop offset="0.5625" stop-color="#5ebe89"/><stop offset="0.6250" stop-color="#8bbf75"/><stop offset="0.6875" stop-color="#b1bd66"/><stop offset="0.7500" stop-color="#d3bb58"/><stop offset="0.8125" stop-color="#f2b949"/><stop offset="0.8750" stop-color="#fec932"/><stop offset="0.9375" stop-color="#f5de21"/><stop offset="1.0000" stop-color="#f9fb0e"/></linearGradient>
<polyline points="254.8,259.9 332.51,230.07 411.01,281.97" fill="none" stroke="#f1f1f1" stroke-width="0.5"/>
<polyline points="254.8,242.5 332.51,212.67 411.01,264.57" fill="none" stroke="#f1f1f1" stroke-width="0.5"/>
<polyline points="254.8,225.1 332.51,195.27 411.01,247.17" fill="none" stroke="#f1f1f1" stroke-width="0.5"/>
<polyline points="254.8,207.7 332.51,177.87 411.01,229.77" fill="none" stroke="#f1f1f1" stroke-width="0.5"/>
<polyline points="254.8,190.3 332.51,160.47 411.01,212.37" fill="none" stroke="#f1f1f1" stroke-width="0.5"/>
<path d="M262.98 256.76L262.98 187.16M262.98 256.76L341.48 308.66" fill="none" stroke="#f1f1f1" stroke-width="0.5"/>
<path d="M283.43 248.91L283.43 179.31M283.43 248.91L361.93 300.81" fill="none" stroke="#f1f1f1" stroke-width="0.5"/>
<path d="M303.88 241.06L303.88 171.46M303.88 241.06L382.38 292.96" fill="none" stroke="#f1f1f1" stroke-width="0.5"/>
<path d="M324.33 233.21L324.33 163.61M324.33 233.21L402.83 285.11" fill="none" stroke="#f1f1f1" stroke-width="0.5"/>
<path d="M348.21 240.45L348.21 170.85M348.21 240.45L270.5 270.28" fill="none" stroke="#f1f1f1" stroke-width="0.5"/>
<path d="M363.91 250.83L363.91 181.23M363.91 250.83L286.2 280.66" fill="none" stroke="#f1f1f1" stroke-width="0.5"/>
<path d="M379.61 261.21L379.61 191.61M379.61 261.21L301.9 291.04" fill="none" stroke="#f1f1f1" stroke-width="0.5"/>
<path d="M395.31 271.59L395.31 201.99M395.31 271.59L317.6 301.42" fill="none" stroke="#f1f1f1" stroke-width="0.5"/>
<path d="M254.8 190.3L332.51 160.47L411.01 212.37L411.01 281.97M332.51 230.07L332.51 160.47M254.8 259.9L332.51 230.07" fill="none" stroke="#e9e9e9" stroke-width="0.5"/>
<path d="M332.51 230.07L411.01 281.97" fill="none" stroke="#e9e9e9" stroke-width="0.5"/>
<g filter="url(#desat)">
<rect x="0" y="0" width="1" height="0.61" fill="url(#ge)" transform="matrix(13.19 8.72 0 -87 325.26 242.37)"/>
<rect x="0" y="0" width="1" height="0.61" fill="url(#ge)" transform="matrix(16.36 -6.28 0 -87 338.44 251.09)"/>
<polygon points="325.26,189.3 338.44,198.02 354.8,191.74 341.62,183.02" fill="#fec833" stroke="#fec833" stroke-width="0.7" stroke-linejoin="round"/>
<path d="M325.26 242.37L338.44 251.09L354.8 244.81L354.8 191.74L341.62 183.02L325.26 189.3ZM325.26 189.3L338.44 198.02L354.8 191.74M338.44 198.02L338.44 251.09" fill="none" stroke="#101838" stroke-opacity="0.7" stroke-width="0.35" stroke-linejoin="round"/>
<rect x="0" y="0" width="1" height="0.67" fill="url(#ge)" transform="matrix(13.19 8.72 0 -87 304.81 250.22)"/>
<rect x="0" y="0" width="1" height="0.67" fill="url(#ge)" transform="matrix(16.36 -6.28 0 -87 317.99 258.94)"/>
<polygon points="304.81,191.93 317.99,200.65 334.35,194.37 321.17,185.65" fill="#f5e61b" stroke="#f5e61b" stroke-width="0.7" stroke-linejoin="round"/>
<path d="M304.81 250.22L317.99 258.94L334.35 252.66L334.35 194.37L321.17 185.65L304.81 191.93ZM304.81 191.93L317.99 200.65L334.35 194.37M317.99 200.65L317.99 258.94" fill="none" stroke="#101838" stroke-opacity="0.7" stroke-width="0.35" stroke-linejoin="round"/>
<rect x="0" y="0" width="1" height="0.51" fill="url(#ge)" transform="matrix(13.19 8.72 0 -87 284.36 258.07)"/>
<rect x="0" y="0" width="1" height="0.51" fill="url(#ge)" transform="matrix(16.36 -6.28 0 -87 297.54 266.79)"/>
<polygon points="284.36,213.7 297.54,222.42 313.9,216.14 300.72,207.42" fill="#c8bc5d" stroke="#c8bc5d" stroke-width="0.7" stroke-linejoin="round"/>
<path d="M284.36 258.07L297.54 266.79L313.9 260.51L313.9 216.14L300.72 207.42L284.36 213.7ZM284.36 213.7L297.54 222.42L313.9 216.14M297.54 222.42L297.54 266.79" fill="none" stroke="#101838" stroke-opacity="0.7" stroke-width="0.35" stroke-linejoin="round"/>
<rect x="0" y="0" width="1" height="0.24" fill="url(#ge)" transform="matrix(13.19 8.72 0 -87 263.91 265.92)"/>
<rect x="0" y="0" width="1" height="0.24" fill="url(#ge)" transform="matrix(16.36 -6.28 0 -87 277.09 274.64)"/>
<polygon points="263.91,244.61 277.09,253.32 293.45,247.04 280.27,238.33" fill="#06a0cd" stroke="#06a0cd" stroke-width="0.7" stroke-linejoin="round"/>
<path d="M263.91 265.92L277.09 274.64L293.45 268.36L293.45 247.04L280.27 238.33L263.91 244.61ZM263.91 244.61L277.09 253.32L293.45 247.04M277.09 253.32L277.09 274.64" fill="none" stroke="#101838" stroke-opacity="0.7" stroke-width="0.35" stroke-linejoin="round"/>
<rect x="0" y="0" width="1" height="0.54" fill="url(#ge)" transform="matrix(13.19 8.72 0 -87 340.96 252.75)"/>
<rect x="0" y="0" width="1" height="0.54" fill="url(#ge)" transform="matrix(16.36 -6.28 0 -87 354.14 261.47)"/>
<polygon points="340.96,206.21 354.14,214.92 370.5,208.64 357.32,199.93" fill="#daba55" stroke="#daba55" stroke-width="0.7" stroke-linejoin="round"/>
<path d="M340.96 252.75L354.14 261.47L370.5 255.19L370.5 208.64L357.32 199.93L340.96 206.21ZM340.96 206.21L354.14 214.92L370.5 208.64M354.14 214.92L354.14 261.47" fill="none" stroke="#101838" stroke-opacity="0.7" stroke-width="0.35" stroke-linejoin="round"/>
<rect x="0" y="0" width="1" height="0.6" fill="url(#ge)" transform="matrix(13.19 8.72 0 -87 320.51 260.6)"/>
<rect x="0" y="0" width="1" height="0.6" fill="url(#ge)" transform="matrix(16.36 -6.28 0 -87 333.69 269.32)"/>
<polygon points="320.51,208.4 333.69,217.12 350.05,210.84 336.87,202.12" fill="#ffc337" stroke="#ffc337" stroke-width="0.7" stroke-linejoin="round"/>
<path d="M320.51 260.6L333.69 269.32L350.05 263.04L350.05 210.84L336.87 202.12L320.51 208.4ZM320.51 208.4L333.69 217.12L350.05 210.84M333.69 217.12L333.69 269.32" fill="none" stroke="#101838" stroke-opacity="0.7" stroke-width="0.35" stroke-linejoin="round"/>
<rect x="0" y="0" width="1" height="0.35" fill="url(#ge)" transform="matrix(13.19 8.72 0 -87 300.06 268.45)"/>
<rect x="0" y="0" width="1" height="0.35" fill="url(#ge)" transform="matrix(16.36 -6.28 0 -87 313.24 277.17)"/>
<polygon points="300.06,238 313.24,246.72 329.6,240.44 316.42,231.72" fill="#33b8a1" stroke="#33b8a1" stroke-width="0.7" stroke-linejoin="round"/>
<path d="M300.06 268.45L313.24 277.17L329.6 270.89L329.6 240.44L316.42 231.72L300.06 238ZM300.06 238L313.24 246.72L329.6 240.44M313.24 246.72L313.24 277.17" fill="none" stroke="#101838" stroke-opacity="0.7" stroke-width="0.35" stroke-linejoin="round"/>
<polygon points="279.61,276.3 292.79,285.02 309.15,278.74 295.97,270.02" fill="#352a87" stroke="#2a237c" stroke-width="0.9" stroke-linejoin="miter"/>
<rect x="0" y="0" width="1" height="0.24" fill="url(#ge)" transform="matrix(13.19 8.72 0 -87 356.66 263.13)"/>
<rect x="0" y="0" width="1" height="0.24" fill="url(#ge)" transform="matrix(16.36 -6.28 0 -87 369.84 271.85)"/>
<polygon points="356.66,242.25 369.84,250.97 386.2,244.69 373.02,235.97" fill="#069fce" stroke="#069fce" stroke-width="0.7" stroke-linejoin="round"/>
<path d="M356.66 263.13L369.84 271.85L386.2 265.57L386.2 244.69L373.02 235.97L356.66 242.25ZM356.66 242.25L369.84 250.97L386.2 244.69M369.84 250.97L369.84 271.85" fill="none" stroke="#101838" stroke-opacity="0.7" stroke-width="0.35" stroke-linejoin="round"/>
<rect x="0" y="0" width="1" height="0.06" fill="url(#ge)" transform="matrix(13.19 8.72 0 -87 336.21 270.98)"/>
<rect x="0" y="0" width="1" height="0.06" fill="url(#ge)" transform="matrix(16.36 -6.28 0 -87 349.39 279.7)"/>
<polygon points="336.21,265.76 349.39,274.48 365.75,268.2 352.57,259.48" fill="#274ecc" stroke="#274ecc" stroke-width="0.7" stroke-linejoin="round"/>
<path d="M336.21 270.98L349.39 279.7L365.75 273.42L365.75 268.2L352.57 259.48L336.21 265.76ZM336.21 265.76L349.39 274.48L365.75 268.2M349.39 274.48L349.39 279.7" fill="none" stroke="#101838" stroke-opacity="0.55" stroke-width="0.35" stroke-linejoin="round"/>
<polygon points="315.76,278.83 328.94,287.55 345.3,281.27 332.12,272.55" fill="#352a87" stroke="#2a237c" stroke-width="0.9" stroke-linejoin="miter"/>
<polygon points="295.31,286.68 308.49,295.4 324.85,289.12 311.67,280.4" fill="#352a87" stroke="#2a237c" stroke-width="0.9" stroke-linejoin="miter"/>
<rect x="0" y="0" width="1" height="0.1" fill="url(#ge)" transform="matrix(13.19 8.72 0 -87 372.36 273.51)"/>
<rect x="0" y="0" width="1" height="0.1" fill="url(#ge)" transform="matrix(16.36 -6.28 0 -87 385.54 282.23)"/>
<polygon points="372.36,264.81 385.54,273.53 401.9,267.25 388.72,258.53" fill="#0268e1" stroke="#0268e1" stroke-width="0.7" stroke-linejoin="round"/>
<path d="M372.36 273.51L385.54 282.23L401.9 275.95L401.9 267.25L388.72 258.53L372.36 264.81ZM372.36 264.81L385.54 273.53L401.9 267.25M385.54 273.53L385.54 282.23" fill="none" stroke="#101838" stroke-opacity="0.55" stroke-width="0.35" stroke-linejoin="round"/>
<polygon points="351.91,281.36 365.09,290.08 381.45,283.8 368.27,275.08" fill="#352a87" stroke="#2a237c" stroke-width="0.9" stroke-linejoin="miter"/>
<polygon points="331.46,289.21 344.64,297.93 361,291.65 347.82,282.93" fill="#352a87" stroke="#2a237c" stroke-width="0.9" stroke-linejoin="miter"/>
<polygon points="311.01,297.06 324.19,305.78 340.55,299.5 327.37,290.78" fill="#352a87" stroke="#2a237c" stroke-width="0.9" stroke-linejoin="miter"/>
</g>
<path d="M254.8 190.3L254.8 259.9L333.3 311.8L411.01 281.97" fill="none" stroke="#555" stroke-width="0.5"/>
<path d="M254.8 259.9l-2.2 0" stroke="#555" stroke-width="0.5"/>
<text x="250.8" y="262.2" text-anchor="end" class="tk">0</text>
<path d="M254.8 242.5l-2.2 0" stroke="#555" stroke-width="0.5"/>
<text x="250.8" y="244.8" text-anchor="end" class="tk">0.2</text>
<path d="M254.8 225.1l-2.2 0" stroke="#555" stroke-width="0.5"/>
<text x="250.8" y="227.4" text-anchor="end" class="tk">0.4</text>
<path d="M254.8 207.7l-2.2 0" stroke="#555" stroke-width="0.5"/>
<text x="250.8" y="210" text-anchor="end" class="tk">0.6</text>
<path d="M254.8 190.3l-2.2 0" stroke="#555" stroke-width="0.5"/>
<text x="250.8" y="192.6" text-anchor="end" class="tk">0.8</text>
<path d="M270.5 270.28l-1.84 0.71" stroke="#555" stroke-width="0.5"/>
<text x="265.5" y="279.08" text-anchor="end" class="tk">5</text>
<path d="M286.2 280.66l-1.84 0.71" stroke="#555" stroke-width="0.5"/>
<text x="281.2" y="289.46" text-anchor="end" class="tk">10</text>
<path d="M301.9 291.04l-1.84 0.71" stroke="#555" stroke-width="0.5"/>
<text x="296.9" y="299.84" text-anchor="end" class="tk">15</text>
<path d="M317.6 301.42l-1.84 0.71" stroke="#555" stroke-width="0.5"/>
<text x="312.6" y="310.22" text-anchor="end" class="tk">20</text>
<path d="M341.48 308.66l1.88 1.25" stroke="#555" stroke-width="0.5"/>
<text x="344.58" y="318.16" class="tk">5</text>
<path d="M361.93 300.81l1.88 1.25" stroke="#555" stroke-width="0.5"/>
<text x="365.03" y="310.31" class="tk">10</text>
<path d="M382.38 292.96l1.88 1.25" stroke="#555" stroke-width="0.5"/>
<text x="385.48" y="302.46" class="tk">15</text>
<path d="M402.83 285.11l1.88 1.25" stroke="#555" stroke-width="0.5"/>
<text x="405.93" y="294.61" class="tk">20</text>
<text transform="translate(237.3 225) rotate(-90)" text-anchor="middle" class="al">Ratio of wires to coated pillars</text>
<text x="266.3" y="316.5" text-anchor="middle" class="al">Interspace (<tspan font-style="italic">µ</tspan>m)</text>
<text x="396.3" y="322.5" text-anchor="middle" class="al">Diameter (<tspan font-style="italic">µ</tspan>m)</text>
<text x="21.3" y="176.8" class="pl">d</text><text x="218.1" y="176.8" class="pl">e</text>
<rect x="428.4" y="161.2" width="9.3" height="151.6" fill="url(#cb)" stroke="#555" stroke-width="0.4" filter="url(#desat)"/>
<text x="440.2" y="314.8" class="cbt">0</text>
<text x="440.2" y="293.14" class="cbt">0.1</text>
<path d="M428.4 291.14h1.5M437.7 291.14h-1.5" stroke="#444" stroke-width="0.4"/>
<text x="440.2" y="271.49" class="cbt">0.2</text>
<path d="M428.4 269.49h1.5M437.7 269.49h-1.5" stroke="#444" stroke-width="0.4"/>
<text x="440.2" y="249.83" class="cbt">0.3</text>
<path d="M428.4 247.83h1.5M437.7 247.83h-1.5" stroke="#444" stroke-width="0.4"/>
<text x="440.2" y="228.17" class="cbt">0.4</text>
<path d="M428.4 226.17h1.5M437.7 226.17h-1.5" stroke="#444" stroke-width="0.4"/>
<text x="440.2" y="206.51" class="cbt">0.5</text>
<path d="M428.4 204.51h1.5M437.7 204.51h-1.5" stroke="#444" stroke-width="0.4"/>
<text x="440.2" y="184.86" class="cbt">0.6</text>
<path d="M428.4 182.86h1.5M437.7 182.86h-1.5" stroke="#444" stroke-width="0.4"/>
<text x="440.2" y="163.2" class="cbt">0.7</text>
<path d="M481.21 173L481.21 299.3L644.29 299.3" fill="none" stroke="#777" stroke-width="0.5"/>
<path d="M494.8 299.3v-2" stroke="#777" stroke-width="0.5"/>
<text x="494.8" y="307.6" text-anchor="middle" class="tk">0</text>
<path d="M521.98 299.3v-2" stroke="#777" stroke-width="0.5"/>
<text x="521.98" y="307.6" text-anchor="middle" class="tk">2</text>
<path d="M549.16 299.3v-2" stroke="#777" stroke-width="0.5"/>
<text x="549.16" y="307.6" text-anchor="middle" class="tk">4</text>
<path d="M576.34 299.3v-2" stroke="#777" stroke-width="0.5"/>
<text x="576.34" y="307.6" text-anchor="middle" class="tk">6</text>
<path d="M603.52 299.3v-2" stroke="#777" stroke-width="0.5"/>
<text x="603.52" y="307.6" text-anchor="middle" class="tk">8</text>
<path d="M630.7 299.3v-2" stroke="#777" stroke-width="0.5"/>
<text x="630.7" y="307.6" text-anchor="middle" class="tk">10</text>
<path d="M481.21 299.3h2" stroke="#777" stroke-width="0.5"/>
<text x="478.71" y="301.6" text-anchor="end" class="tk">0</text>
<path d="M481.21 274.04h2" stroke="#777" stroke-width="0.5"/>
<text x="478.71" y="276.34" text-anchor="end" class="tk">0.2</text>
<path d="M481.21 248.78h2" stroke="#777" stroke-width="0.5"/>
<text x="478.71" y="251.08" text-anchor="end" class="tk">0.4</text>
<path d="M481.21 223.52h2" stroke="#777" stroke-width="0.5"/>
<text x="478.71" y="225.82" text-anchor="end" class="tk">0.6</text>
<path d="M481.21 198.26h2" stroke="#777" stroke-width="0.5"/>
<text x="478.71" y="200.56" text-anchor="end" class="tk">0.8</text>
<path d="M481.21 173h2" stroke="#777" stroke-width="0.5"/>
<text x="478.71" y="175.3" text-anchor="end" class="tk">1</text>
<polyline points="496.16,248.78 501.6,219.73 508.39,212.15 562.75,195.73 630.7,225.41" fill="none" stroke="#111" stroke-width="0.8"/>
<polyline points="496.16,231.1 501.6,210.89 508.39,191.31 562.75,186.26 630.7,199.52" fill="none" stroke="#111" stroke-width="0.8" stroke-dasharray="3.8 2.1"/>
<polyline points="496.16,279.09 501.6,227.31 508.39,233.62 562.75,205.21 630.7,251.94" fill="none" stroke="#111" stroke-width="0.8" stroke-dasharray="3.8 2.1"/>
<circle cx="496.16" cy="276.57" r="1.85" fill="#000"/>
<circle cx="496.16" cy="275.3" r="1.85" fill="#000"/>
<circle cx="496.16" cy="265.83" r="1.85" fill="#000"/>
<circle cx="496.16" cy="252.57" r="1.85" fill="#000"/>
<circle cx="496.16" cy="244.36" r="1.85" fill="#000"/>
<circle cx="496.16" cy="217.21" r="1.85" fill="#000"/>
<circle cx="501.6" cy="244.99" r="1.85" fill="#000"/>
<circle cx="501.6" cy="238.04" r="1.85" fill="#000"/>
<circle cx="501.6" cy="217.21" r="1.85" fill="#000"/>
<circle cx="501.6" cy="203.94" r="1.85" fill="#000"/>
<circle cx="501.6" cy="194.47" r="1.85" fill="#000"/>
<circle cx="508.39" cy="244.99" r="1.85" fill="#000"/>
<circle cx="508.39" cy="217.84" r="1.85" fill="#000"/>
<circle cx="508.39" cy="216.57" r="1.85" fill="#000"/>
<circle cx="508.39" cy="204.58" r="1.85" fill="#000"/>
<circle cx="508.39" cy="196.37" r="1.85" fill="#000"/>
<circle cx="508.39" cy="193.21" r="1.85" fill="#000"/>
<circle cx="562.75" cy="202.68" r="1.85" fill="#000"/>
<circle cx="562.75" cy="199.52" r="1.85" fill="#000"/>
<circle cx="562.75" cy="196.37" r="1.85" fill="#000"/>
<circle cx="562.75" cy="191.95" r="1.85" fill="#000"/>
<circle cx="562.75" cy="188.79" r="1.85" fill="#000"/>
<circle cx="630.7" cy="270.88" r="1.85" fill="#000"/>
<circle cx="630.7" cy="242.47" r="1.85" fill="#000"/>
<circle cx="630.7" cy="221.63" r="1.85" fill="#000"/>
<circle cx="630.7" cy="211.52" r="1.85" fill="#000"/>
<circle cx="630.7" cy="206.47" r="1.85" fill="#000"/>
<circle cx="630.7" cy="202.68" r="1.85" fill="#000"/>
<text transform="translate(465.9 236.5) rotate(-90)" text-anchor="middle" class="al">Ratio of wires to coated pillars</text>
<text x="563" y="316.5" text-anchor="middle" class="al" style="font-size:7.25px">Speed (mm/s)</text>
<text x="458.7" y="176.4" class="pl">f</text>
<rect x="146.6" y="343.2" width="162.6" height="126" fill="#fff" stroke="#858585" stroke-width="0.5"/>
<path d="M164.67 469.2v-1.6M164.67 343.2v1.6" stroke="#858585" stroke-width="0.4"/>
<text x="164.67" y="478.5" text-anchor="middle" class="tk2">100</text>
<path d="M182.73 469.2v-1.6M182.73 343.2v1.6" stroke="#858585" stroke-width="0.4"/>
<text x="182.73" y="478.5" text-anchor="middle" class="tk2">200</text>
<path d="M200.8 469.2v-1.6M200.8 343.2v1.6" stroke="#858585" stroke-width="0.4"/>
<text x="200.8" y="478.5" text-anchor="middle" class="tk2">300</text>
<path d="M218.87 469.2v-1.6M218.87 343.2v1.6" stroke="#858585" stroke-width="0.4"/>
<text x="218.87" y="478.5" text-anchor="middle" class="tk2">400</text>
<path d="M236.93 469.2v-1.6M236.93 343.2v1.6" stroke="#858585" stroke-width="0.4"/>
<text x="236.93" y="478.5" text-anchor="middle" class="tk2">500</text>
<path d="M255 469.2v-1.6M255 343.2v1.6" stroke="#858585" stroke-width="0.4"/>
<text x="255" y="478.5" text-anchor="middle" class="tk2">600</text>
<path d="M273.07 469.2v-1.6M273.07 343.2v1.6" stroke="#858585" stroke-width="0.4"/>
<text x="273.07" y="478.5" text-anchor="middle" class="tk2">700</text>
<path d="M291.13 469.2v-1.6M291.13 343.2v1.6" stroke="#858585" stroke-width="0.4"/>
<text x="291.13" y="478.5" text-anchor="middle" class="tk2">800</text>
<path d="M309.2 469.2v-1.6M309.2 343.2v1.6" stroke="#858585" stroke-width="0.4"/>
<text x="309.2" y="478.5" text-anchor="middle" class="tk2">900</text>
<path d="M146.6 469.2h1.6M309.2 469.2h-1.6" stroke="#858585" stroke-width="0.4"/>
<text x="144.4" y="471.6" text-anchor="end" class="tk2">0</text>
<path d="M146.6 453.45h1.6M309.2 453.45h-1.6" stroke="#858585" stroke-width="0.4"/>
<text x="144.4" y="455.85" text-anchor="end" class="tk2">5</text>
<path d="M146.6 437.7h1.6M309.2 437.7h-1.6" stroke="#858585" stroke-width="0.4"/>
<text x="144.4" y="440.1" text-anchor="end" class="tk2">10</text>
<path d="M146.6 421.95h1.6M309.2 421.95h-1.6" stroke="#858585" stroke-width="0.4"/>
<text x="144.4" y="424.35" text-anchor="end" class="tk2">15</text>
<path d="M146.6 406.2h1.6M309.2 406.2h-1.6" stroke="#858585" stroke-width="0.4"/>
<text x="144.4" y="408.6" text-anchor="end" class="tk2">20</text>
<path d="M146.6 390.45h1.6M309.2 390.45h-1.6" stroke="#858585" stroke-width="0.4"/>
<text x="144.4" y="392.85" text-anchor="end" class="tk2">25</text>
<path d="M146.6 374.7h1.6M309.2 374.7h-1.6" stroke="#858585" stroke-width="0.4"/>
<text x="144.4" y="377.1" text-anchor="end" class="tk2">30</text>
<path d="M146.6 358.95h1.6M309.2 358.95h-1.6" stroke="#858585" stroke-width="0.4"/>
<text x="144.4" y="361.35" text-anchor="end" class="tk2">35</text>
<path d="M146.6 343.2h1.6M309.2 343.2h-1.6" stroke="#858585" stroke-width="0.4"/>
<text x="144.4" y="345.6" text-anchor="end" class="tk2">40</text>
<rect x="189.96" y="466.05" width="6.05" height="3.15" fill="#fff" stroke="#111" stroke-width="0.55"/>
<rect x="196.01" y="425.1" width="6.05" height="44.1" fill="#fff" stroke="#111" stroke-width="0.55"/>
<rect x="202.06" y="343.2" width="6.05" height="126" fill="#fff" stroke="#111" stroke-width="0.55"/>
<rect x="208.12" y="346.35" width="6.05" height="122.85" fill="#fff" stroke="#111" stroke-width="0.55"/>
<rect x="214.17" y="409.35" width="6.05" height="59.85" fill="#fff" stroke="#111" stroke-width="0.55"/>
<rect x="220.22" y="466.05" width="6.05" height="3.15" fill="#fff" stroke="#111" stroke-width="0.55"/>
<rect x="226.27" y="462.9" width="6.05" height="6.3" fill="#fff" stroke="#111" stroke-width="0.55"/>
<rect x="232.33" y="462.9" width="6.05" height="6.3" fill="#fff" stroke="#111" stroke-width="0.55"/>
<rect x="244.43" y="466.05" width="6.05" height="3.15" fill="#fff" stroke="#111" stroke-width="0.55"/>
<polyline points="186.02,467.9 186.78,467.45 187.55,466.88 188.31,466.14 189.07,465.21 189.83,464.05 190.6,462.62 191.36,460.88 192.12,458.78 192.88,456.28 193.65,453.34 194.41,449.93 195.17,446.01 195.93,441.58 196.7,436.62 197.46,431.16 198.22,425.22 198.98,418.86 199.74,412.16 200.51,405.21 201.27,398.13 202.03,391.04 202.79,384.11 203.56,377.48 204.32,371.32 205.08,365.79 205.84,361.03 206.61,357.18 207.37,354.34 208.13,352.6 208.89,352.02 209.66,352.6 210.42,354.34 211.18,357.18 211.94,361.03 212.71,365.79 213.47,371.32 214.23,377.48 214.99,384.11 215.76,391.04 216.52,398.13 217.28,405.21 218.04,412.16 218.81,418.86 219.57,425.22 220.33,431.16 221.09,436.62 221.85,441.58 222.62,446.01 223.38,449.93 224.14,453.34 224.9,456.28 225.67,458.78 226.43,460.88 227.19,462.62 227.95,464.05 228.72,465.21 229.48,466.14 230.24,466.88 231,467.45 231.77,467.9" fill="none" stroke="#bd1a22" stroke-width="1.05"/>
<text transform="translate(133 406.2) rotate(-90)" text-anchor="middle" class="al2">Number of wires</text>
<text x="227.9" y="487.4" text-anchor="middle" class="al2">Wire diameter (nm)</text>
<text x="125.4" y="348.8" class="pl">g</text>
<text x="268.6" y="353.5" class="ann"><tspan font-style="italic" font-weight="normal">µ</tspan> = 344.8 nm</text>
<text x="268.6" y="362.4" class="ann"><tspan font-style="italic" font-weight="normal">σ</tspan> = 42.2 nm</text>
<rect x="370.4" y="343.4" width="162.8" height="125.8" fill="#fff" stroke="#858585" stroke-width="0.5"/>
<path d="M388.49 469.2v-1.6M388.49 343.4v1.6" stroke="#858585" stroke-width="0.4"/>
<text x="388.49" y="478.5" text-anchor="middle" class="tk2">100</text>
<path d="M406.58 469.2v-1.6M406.58 343.4v1.6" stroke="#858585" stroke-width="0.4"/>
<text x="406.58" y="478.5" text-anchor="middle" class="tk2">200</text>
<path d="M424.67 469.2v-1.6M424.67 343.4v1.6" stroke="#858585" stroke-width="0.4"/>
<text x="424.67" y="478.5" text-anchor="middle" class="tk2">300</text>
<path d="M442.76 469.2v-1.6M442.76 343.4v1.6" stroke="#858585" stroke-width="0.4"/>
<text x="442.76" y="478.5" text-anchor="middle" class="tk2">400</text>
<path d="M460.84 469.2v-1.6M460.84 343.4v1.6" stroke="#858585" stroke-width="0.4"/>
<text x="460.84" y="478.5" text-anchor="middle" class="tk2">500</text>
<path d="M478.93 469.2v-1.6M478.93 343.4v1.6" stroke="#858585" stroke-width="0.4"/>
<text x="478.93" y="478.5" text-anchor="middle" class="tk2">600</text>
<path d="M497.02 469.2v-1.6M497.02 343.4v1.6" stroke="#858585" stroke-width="0.4"/>
<text x="497.02" y="478.5" text-anchor="middle" class="tk2">700</text>
<path d="M515.11 469.2v-1.6M515.11 343.4v1.6" stroke="#858585" stroke-width="0.4"/>
<text x="515.11" y="478.5" text-anchor="middle" class="tk2">800</text>
<path d="M533.2 469.2v-1.6M533.2 343.4v1.6" stroke="#858585" stroke-width="0.4"/>
<text x="533.2" y="478.5" text-anchor="middle" class="tk2">900</text>
<path d="M370.4 469.2h1.6M533.2 469.2h-1.6" stroke="#858585" stroke-width="0.4"/>
<text x="368.2" y="471.6" text-anchor="end" class="tk2">0</text>
<path d="M370.4 453.47h1.6M533.2 453.47h-1.6" stroke="#858585" stroke-width="0.4"/>
<text x="368.2" y="455.87" text-anchor="end" class="tk2">5</text>
<path d="M370.4 437.75h1.6M533.2 437.75h-1.6" stroke="#858585" stroke-width="0.4"/>
<text x="368.2" y="440.15" text-anchor="end" class="tk2">10</text>
<path d="M370.4 422.02h1.6M533.2 422.02h-1.6" stroke="#858585" stroke-width="0.4"/>
<text x="368.2" y="424.42" text-anchor="end" class="tk2">15</text>
<path d="M370.4 406.3h1.6M533.2 406.3h-1.6" stroke="#858585" stroke-width="0.4"/>
<text x="368.2" y="408.7" text-anchor="end" class="tk2">20</text>
<path d="M370.4 390.57h1.6M533.2 390.57h-1.6" stroke="#858585" stroke-width="0.4"/>
<text x="368.2" y="392.97" text-anchor="end" class="tk2">25</text>
<path d="M370.4 374.85h1.6M533.2 374.85h-1.6" stroke="#858585" stroke-width="0.4"/>
<text x="368.2" y="377.25" text-anchor="end" class="tk2">30</text>
<path d="M370.4 359.12h1.6M533.2 359.12h-1.6" stroke="#858585" stroke-width="0.4"/>
<text x="368.2" y="361.52" text-anchor="end" class="tk2">35</text>
<path d="M370.4 343.4h1.6M533.2 343.4h-1.6" stroke="#858585" stroke-width="0.4"/>
<text x="368.2" y="345.8" text-anchor="end" class="tk2">40</text>
<rect x="401.33" y="466.06" width="6.45" height="3.15" fill="#fff" stroke="#111" stroke-width="0.55"/>
<rect x="407.78" y="462.91" width="6.45" height="6.29" fill="#fff" stroke="#111" stroke-width="0.55"/>
<rect x="414.23" y="355.98" width="6.45" height="113.22" fill="#fff" stroke="#111" stroke-width="0.55"/>
<rect x="420.68" y="359.12" width="6.45" height="110.08" fill="#fff" stroke="#111" stroke-width="0.55"/>
<rect x="427.13" y="415.73" width="6.45" height="53.47" fill="#fff" stroke="#111" stroke-width="0.55"/>
<rect x="433.58" y="450.33" width="6.45" height="18.87" fill="#fff" stroke="#111" stroke-width="0.55"/>
<rect x="440.02" y="462.91" width="6.45" height="6.29" fill="#fff" stroke="#111" stroke-width="0.55"/>
<rect x="446.47" y="462.91" width="6.45" height="6.29" fill="#fff" stroke="#111" stroke-width="0.55"/>
<rect x="452.92" y="466.06" width="6.45" height="3.15" fill="#fff" stroke="#111" stroke-width="0.55"/>
<rect x="459.37" y="459.76" width="6.45" height="9.44" fill="#fff" stroke="#111" stroke-width="0.55"/>
<polyline points="397.46,468.26 398.44,467.93 399.42,467.52 400.4,466.98 401.38,466.31 402.36,465.47 403.34,464.43 404.32,463.17 405.3,461.65 406.28,459.84 407.27,457.71 408.25,455.23 409.23,452.4 410.21,449.18 411.19,445.59 412.17,441.63 413.15,437.33 414.13,432.72 415.11,427.87 416.09,422.83 417.07,417.7 418.05,412.56 419.03,407.54 420.01,402.74 420.99,398.27 421.97,394.26 422.95,390.81 423.93,388.02 424.91,385.97 425.89,384.71 426.87,384.28 427.85,384.71 428.83,385.97 429.81,388.02 430.8,390.81 431.78,394.26 432.76,398.27 433.74,402.74 434.72,407.54 435.7,412.56 436.68,417.7 437.66,422.83 438.64,427.87 439.62,432.72 440.6,437.33 441.58,441.63 442.56,445.59 443.54,449.18 444.52,452.4 445.5,455.23 446.48,457.71 447.46,459.84 448.44,461.65 449.42,463.17 450.4,464.43 451.38,465.47 452.36,466.31 453.34,466.98 454.33,467.52 455.31,467.93 456.29,468.26" fill="none" stroke="#bd1a22" stroke-width="1.05"/>
<text transform="translate(356.8 406.3) rotate(-90)" text-anchor="middle" class="al2">Number of wires</text>
<text x="451.8" y="487.4" text-anchor="middle" class="al2">Wire diameter (nm)</text>
<text x="347" y="349" class="pl">h</text>
<text x="492.6" y="353.7" class="ann"><tspan font-style="italic" font-weight="normal">µ</tspan> = 312.2 nm</text>
<text x="492.6" y="362.6" class="ann"><tspan font-style="italic" font-weight="normal">σ</tspan> = 54.2 nm</text>
</svg>
<div class="tip"><div class="t1">超疏水柱表面自组装功能蜘蛛丝，涂层和片材-定稿 -</div><div class="t2">Microsoft Word</div></div>
<div class="cl" style="top:502.7px;transform:scaleX(1.0160);word-spacing:0.859px"><b>Figure 3.</b>&nbsp; Results of Z-silk nanowire formation using lateral droplet movement on an array with pillar diameter <i>d</i> = 15 µm and interspace <i>i</i> = 10 µm</div>
<div class="cl" style="top:514.7px;transform:scaleX(1.0160);word-spacing:0.740px">with droplet speed of 10 mm s<span class="sp">−1</span>: a) top-view fluorescence image of nanowires; b) magnification of (a); c) SEM image of the pillars, their coatings in</div>
<div class="cl" style="top:526.7px;transform:scaleX(1.0160);word-spacing:0.567px">the form of a wrinkled sheet, and the nanowires in between. Average amount of wires generated in relation to the amount of coated pillars for lateral</div>
<div class="cl" style="top:538.7px;transform:scaleX(1.0160);word-spacing:0.800px">droplet movement d,e) with speeds 0.1 mm s<span class="sp">−1</span> (d) and 10 mm s<span class="sp">−1</span> (e) and f) for speeds 0.1–10 mm s<span class="sp">−1</span> for a surface with <i>d</i> = 15 µm and <i>i</i> = 5 µm;</div>
<div class="cl" style="top:550.7px;transform:scaleX(1.0160);word-spacing:0.929px">histograms of the average wire diameter with a normal Gaussian fit for (g) (<i>d, i, s</i>) = (15 µm, 5 µm, 1 mm s<span class="sp">−1</span>), i.e., the parameters resulting in the</div>
<div class="cl" style="top:562.7px;transform:scaleX(1.0160);word-spacing:1.109px">lowest relative wire diameter variability, and for (h) (<i>d, i, s</i>) = (15 µm, 5 µm, 5 mm s<span class="sp">−1</span>), i.e., the parameters resulting in the largest wire yield. The</div>
<div class="cl" style="top:574.7px;transform:scaleX(1.0160);word-spacing:0.000px">fluorescence signal in the images was enhanced using Photoshop (brightness: 100, contrast: 45).</div>
</body></html>
